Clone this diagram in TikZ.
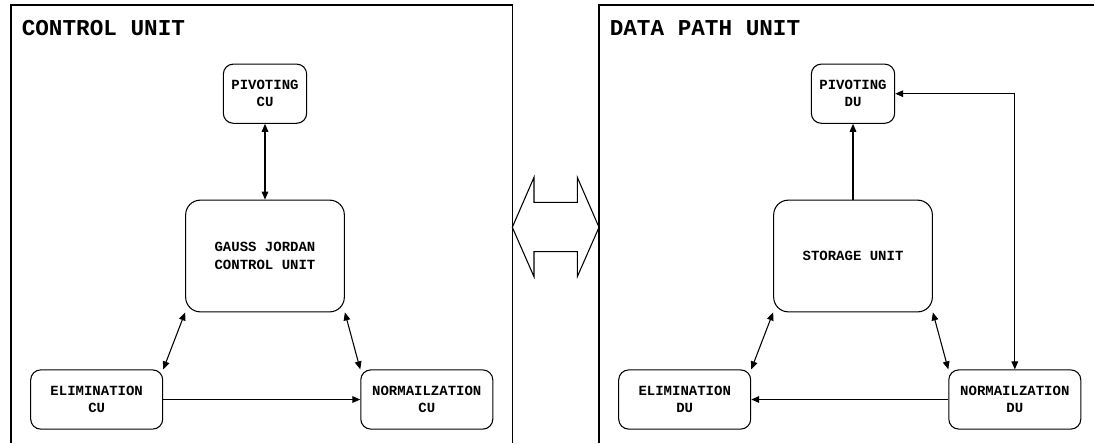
\documentclass[tikz,border=0pt]{standalone}
\usepackage{fontspec}
\newfontfamily\cour{Liberation Mono}
\usetikzlibrary{arrows.meta}
\begin{document}
\begin{tikzpicture}[x=0.75pt,y=-0.75pt,
  txt/.style={font=\cour\bfseries\fontsize{10.5}{13}\selectfont},
  box/.style={draw, line width=0.8pt, align=center, inner sep=0pt, txt},
  smallbox/.style={box, rounded corners=7.5pt, minimum height=44.4pt},
  bigbox/.style={box, rounded corners=11pt, minimum width=119pt, minimum height=83.8pt},
  frame/.style={line width=0.8pt},
  title/.style={anchor=west, inner sep=0pt, font=\cour\bfseries\fontsize{17}{20}\selectfont},
  tip/.tip={Triangle[length=6pt,width=5pt]},
  conn/.style={line width=0.8pt, -tip},
  both/.style={line width=0.8pt, tip-tip},
]
\useasboundingbox (0,0) rectangle (1094,443);
\fill[white] (0,0) rectangle (1094,443);

% frames
\draw[frame] (11,443) -- (11,5) -- (512.3,5) -- (512.3,443);
\draw[frame] (599,443) -- (599,5) -- (1094,5);
\node[title] (cutitle) at (21.5,27.7) {CONTROL UNIT};
\node[title] (dptitle) at (609.5,27.7) {DATA PATH UNIT};

% control unit
\node[smallbox, minimum width=62.5pt] (pc) at (265,93.7) {PIVOTING\\CU};
\node[bigbox] (g) at (265,256) {GAUSS JORDAN\\CONTROL UNIT};
\node[smallbox, minimum width=99pt] (ec) at (96.7,399.5) {ELIMINATION\\CU};
\node[smallbox, minimum width=99pt] (nc) at (426.8,399.5) {NORMAILZATION\\CU};

\draw[both] (pc.south) -- (g.north);
\draw[both] (g.south west) -- (ec.north east);
\draw[both] (g.south east) -- (nc.north west);
\draw[conn] (ec.east) -- (nc.west);

% double arrow between units
\draw[line width=0.8pt, line join=miter] (512.3,227.3) -- (534,177.3) -- (534,202.3) -- (577.3,202.3) -- (577.3,177.3) -- (599,227.3) -- (577.3,276.7) -- (577.3,251.7) -- (534,251.7) -- (534,276.7) -- cycle;

% data path unit
\node[smallbox, minimum width=62.5pt] (pd) at (853,93.7) {PIVOTING\\DU};
\node[bigbox] (s) at (853,256) {STORAGE UNIT};
\node[smallbox, minimum width=99pt] (ed) at (684.7,399.5) {ELIMINATION\\DU};
\node[smallbox, minimum width=99pt] (nd) at (1014.8,399.5) {NORMAILZATION\\DU};

\draw[conn] (s.north) -- (pd.south);
\draw[both] (pd.east) -| (nd.north);
\draw[both] (s.south west) -- (ed.north east);
\draw[both] (s.south east) -- (nd.north west);
\draw[conn] (nd.west) -- (ed.east);
\end{tikzpicture}
\end{document}
